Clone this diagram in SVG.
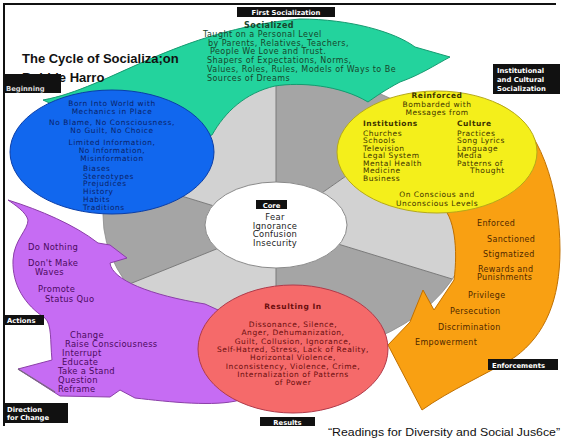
<svg xmlns="http://www.w3.org/2000/svg" width="565" height="441" viewBox="0 0 565 441">
<style>
.t{font-family:"DejaVu Sans","Liberation Sans",sans-serif}
.b{font-weight:bold}
.lab{fill:#111}
.lt{font-family:"DejaVu Sans","Liberation Sans",sans-serif;font-weight:bold;font-size:6.8px;fill:#fff}
.gt{font-size:8px;letter-spacing:0.45px;fill:#17452b}
.bt{font-size:7.4px;letter-spacing:0.6px;fill:#0a1f66}
.yt{font-size:7.5px;letter-spacing:0.5px;fill:#3d3300}
.ot{font-size:8px;letter-spacing:0.35px;fill:#4f2800}
.rt{font-size:7.5px;letter-spacing:0.55px;fill:#6a0d0d}
.pt{font-size:8.4px;letter-spacing:0.3px;fill:#4b0a5e}
.ct{font-size:8.4px;letter-spacing:0.3px;fill:#222}
.light{fill:#d2d2d2}
.dark{fill:#a5a5a5}
.spoke{stroke:#7a7a7a;stroke-width:1;fill:none}
</style>
<defs>
<clipPath id="wheelClip"><ellipse cx="288" cy="215" rx="185" ry="140"/></clipPath>
</defs>
<rect width="565" height="441" fill="#fff"/>
<path d="M4,426 V4 H556" fill="none" stroke="#111" stroke-width="2"/>

<g id="wheel" clip-path="url(#wheelClip)">
<polygon class="dark" points="276,225 276,-75 522,53"/>
<polygon class="light" points="276,225 522,53 563,313"/>
<polygon class="dark" points="276,225 563,313 276,525"/>
<polygon class="light" points="276,225 276,525 -2,337"/>
<polygon class="dark" points="276,225 -2,337 -11,137"/>
<polygon class="light" points="276,225 -11,137 276,-75"/>
<path class="spoke" d="M276,225 L276,-75 M276,225 L522,53 M276,225 L563,313 M276,225 L276,525 M276,225 L-2,337 M276,225 L-11,137"/>
</g>
<ellipse cx="288" cy="215" rx="185" ry="140" fill="none" stroke="#8a8a8a" stroke-width="0.8"/>

<g id="connectors">
<path id="green-arrow" d="M43,100 C110,88 175,30 300,19 C350,19 395,32 415,47 L450,57 C435,65 420,75 400,82 C385,90 375,97 368,102 C340,85 300,82 275,86 C245,93 225,112 212,135 L150,150 Z" fill="#23d39d" stroke="#169a70" stroke-width="1"/>
<path id="orange-arrow" d="M498,104 C540,122 560,190 560,250 C560,300 545,335 515,357 C485,375 450,390 422,410 L388,345 L410,322 L423,290 L434,310 L454,280 C458,250 455,215 440,205 Z" fill="#f9a012" stroke="#c07000" stroke-width="1"/>
<path id="purple-arrow" d="M8,200 C40,210 75,225 98,243 L110,245 L127,258 L110,263 C112,280 150,295 205,304 L240,320 L240,400 C215,407 170,402 135,398 L120,390 L110,397 L60,396 L18,369 L52,360 C50,340 52,325 45,318 C25,305 12,285 13,260 C14,240 28,230 28,220 C26,212 15,205 8,200 Z" fill="#c66cf3" stroke="#8b3fa8" stroke-width="1"/>
<path d="M18,369 L55,392" stroke="#7a6a80" stroke-width="1.2" fill="none"/>
</g>

<g id="beginning">
<ellipse cx="112" cy="152" rx="102" ry="62" fill="#1167ee" stroke="#0a3ea8" stroke-width="1"/>
<g class="t bt" text-anchor="middle">
<text x="112" y="106">Born Into World with</text>
<text x="112" y="114">Mechanics in Place</text>
<text x="112" y="125">No Blame, No Consciousness,</text>
<text x="112" y="133">No Guilt, No Choice</text>
<text x="112" y="144.5">Limited Information,</text>
<text x="112" y="152.5">No Information,</text>
<text x="112" y="160.5">Misinformation</text>
</g>
<g class="t bt">
<text x="83" y="171">Biases</text>
<text x="83" y="178.7">Stereotypes</text>
<text x="83" y="186.4">Prejudices</text>
<text x="83" y="194.1">History</text>
<text x="83" y="201.8">Habits</text>
<text x="83" y="209.5">Traditions</text>
</g>
</g>

<g id="first-socialization">
<text class="t gt b" x="269" y="28" text-anchor="middle">Socialized</text>
<g class="t gt">
<text x="203" y="37">Taught on a Personal Level</text>
<text x="208" y="45.5">by Parents, Relatives, Teachers,</text>
<text x="210" y="54">People We Love and Trust.</text>
<text x="207" y="63">Shapers of Expectations, Norms,</text>
<text x="207" y="72">Values, Roles, Rules, Models of Ways to Be</text>
<text x="207" y="81">Sources of Dreams</text>
</g>
</g>

<g id="institutional">
<ellipse cx="437" cy="152" rx="100" ry="61" fill="#f4ef1b" stroke="#b5a91a" stroke-width="1"/>
<g class="t yt" text-anchor="middle">
<text class="b" x="437" y="98">Reinforced</text>
<text x="437" y="106.5">Bombarded with</text>
<text x="437" y="114.5">Messages from</text>
<text x="437" y="197">On Conscious and</text>
<text x="437" y="205.5">Unconscious Levels</text>
</g>
<g class="t yt">
<text class="b" x="363" y="126">Institutions</text>
<text x="363" y="135.5">Churches</text>
<text x="363" y="143">Schools</text>
<text x="363" y="150.5">Television</text>
<text x="363" y="158">Legal System</text>
<text x="363" y="165.5">Mental Health</text>
<text x="363" y="173">Medicine</text>
<text x="363" y="180.5">Business</text>
<text class="b" x="457" y="126">Culture</text>
<text x="457" y="135.5">Practices</text>
<text x="457" y="143">Song Lyrics</text>
<text x="457" y="150.5">Language</text>
<text x="457" y="158">Media</text>
<text x="457" y="165.5">Patterns of</text>
<text x="470" y="173">Thought</text>
</g>
</g>

<g id="enforcements">
<g class="t ot">
<text x="477" y="226">Enforced</text>
<text x="487" y="242">Sanctioned</text>
<text x="483" y="257">Stigmatized</text>
<text x="478" y="271.5">Rewards and</text>
<text x="477" y="280">Punishments</text>
<text x="468" y="298">Privilege</text>
<text x="450" y="314">Persecution</text>
<text x="438" y="330">Discrimination</text>
<text x="415" y="345">Empowerment</text>
</g>
</g>

<g id="results">
<ellipse cx="293" cy="349" rx="95" ry="64" fill="#f56a6a" stroke="#b03a4a" stroke-width="1"/>
<g class="t rt" text-anchor="middle">
<text class="b" x="293" y="309">Resulting In</text>
<text x="293" y="327">Dissonance, Silence,</text>
<text x="293" y="335.3">Anger, Dehumanization,</text>
<text x="293" y="343.6">Guilt, Collusion, Ignorance,</text>
<text x="293" y="351.9">Self-Hatred, Stress, Lack of Reality,</text>
<text x="293" y="360.2">Horizontal Violence,</text>
<text x="293" y="368.5">Inconsistency, Violence, Crime,</text>
<text x="293" y="376.8">Internalization of Patterns</text>
<text x="293" y="385.1">of Power</text>
</g>
</g>

<g id="actions">
<g class="t pt">
<text x="28" y="250">Do Nothing</text>
<text x="28" y="266">Don't Make</text>
<text x="35" y="275">Waves</text>
<text x="38" y="292">Promote</text>
<text x="45" y="302">Status Quo</text>
<text x="70" y="338">Change</text>
<text x="65" y="347">Raise Consciousness</text>
<text x="62" y="356">Interrupt</text>
<text x="62" y="365">Educate</text>
<text x="58" y="374">Take a Stand</text>
<text x="58" y="383">Question</text>
<text x="58" y="392">Reframe</text>
</g>
</g>

<g id="core">
<ellipse cx="276" cy="225" rx="71" ry="43" fill="#fff" stroke="#8a8a8a" stroke-width="1"/>
<rect class="lab" x="256" y="200" width="31" height="9"/>
<text class="lt" x="271.5" y="207.5" text-anchor="middle">Core</text>
<g class="t ct" text-anchor="middle">
<text x="275" y="220">Fear</text>
<text x="275" y="228.5">Ignorance</text>
<text x="275" y="237">Confusion</text>
<text x="275" y="246">Insecurity</text>
</g>
</g>

<g id="labels">
<rect class="lab" x="237" y="7" width="98" height="10"/>
<text class="lt" x="286" y="14.7" text-anchor="middle">First Socialization</text>
<rect class="lab" x="3" y="74" width="58" height="19"/>
<text class="lt" x="6" y="90.5" style="fill:#ddd">Beginning</text>
<rect class="lab" x="493" y="64" width="67" height="30"/>
<text class="lt" x="497" y="73">Institutional</text>
<text class="lt" x="497" y="82">and Cultural</text>
<text class="lt" x="497" y="91">Socialization</text>
<rect class="lab" x="4" y="315" width="40" height="10"/>
<text class="lt" x="7" y="322.7">Actions</text>
<rect class="lab" x="4" y="403" width="64" height="20"/>
<text class="lt" x="7" y="411.5">Direction</text>
<text class="lt" x="7" y="420">for Change</text>
<rect class="lab" x="488" y="359" width="70" height="11"/>
<text class="lt" x="492" y="367.5">Enforcements</text>
<rect class="lab" x="260" y="417" width="55" height="9"/>
<text class="lt" x="287.5" y="424.5" text-anchor="middle">Results</text>
</g>

<g id="title">
<text x="22" y="63" font-family="Liberation Sans, Arial, sans-serif" font-weight="bold" font-size="13" fill="#111">The Cycle of Socializa;on</text>
<text x="22" y="82" font-family="Liberation Sans, Arial, sans-serif" font-weight="bold" font-size="13" fill="#111">Bobbie Harro</text>
<text x="328" y="436" font-family="Liberation Sans, Arial, sans-serif" font-size="11" fill="#111" textLength="232" lengthAdjust="spacingAndGlyphs">“Readings for Diversity and Social Jus6ce”</text>
</g>
</svg>
